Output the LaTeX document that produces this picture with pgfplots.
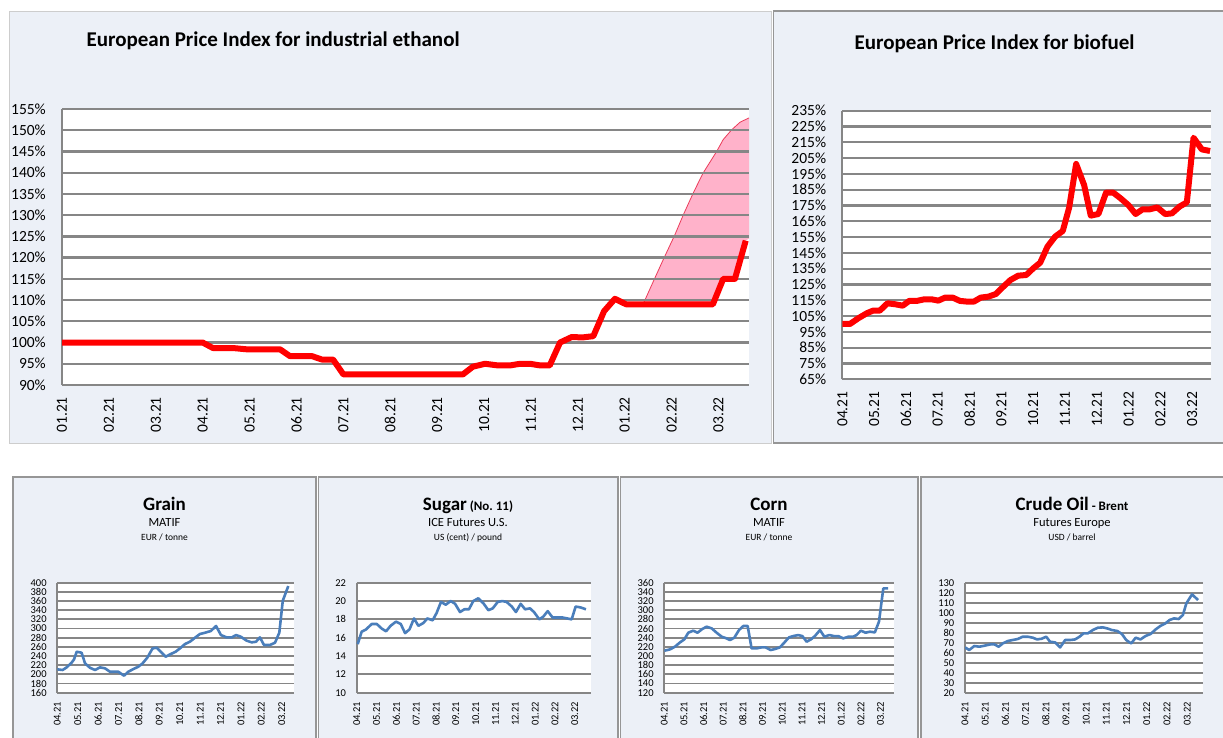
\documentclass[border=0pt]{standalone}
\usepackage{fontspec}
\setmainfont{Carlito}
\usepackage{pgfplots}
\pgfplotsset{compat=1.18}
\definecolor{panelbg}{RGB}{236,240,247}
\definecolor{gridgray}{RGB}{134,134,134}
\definecolor{boxgray}{RGB}{150,150,150}
\definecolor{lightborder}{RGB}{205,205,205}
\definecolor{lineblue}{RGB}{74,126,187}
\definecolor{pinkfill}{RGB}{255,178,202}
\definecolor{pinkedge}{RGB}{235,60,90}

\pgfplotsset{
  base/.style={
    scale only axis, anchor=south west, xmin=0,
    axis background/.style={fill=white},
    axis x line=bottom, axis y line=left,
    axis line style={draw=gridgray, line width=2.3pt, -},
    ymajorgrids, major grid style={draw=gridgray, line width=2.3pt},
    major tick length=0pt,
    tick label style={inner sep=0pt},
    xticklabel style={rotate=90, anchor=east},
    yticklabel style={anchor=east},
    /pgf/number format/assume math mode=true,
    /pgf/number format/fixed, /pgf/number format/precision=0,
    /pgf/number format/1000 sep={},
  },
  big/.style={base,
    tick label style={font=\fontsize{15.5}{18}\selectfont},
    xticklabel shift=12pt, yticklabel shift=16pt,
    yticklabel={\pgfmathprintnumber{\tick}\%}},
  small/.style={base,
    tick label style={font=\fontsize{10.5}{12}\selectfont},
    xticklabel shift=9pt, yticklabel shift=10.5pt,
    axis line style={line width=1.9pt}, major grid style={line width=1.9pt},
    xtick={0,...,11},
    xticklabels={04.21,05.21,06.21,07.21,08.21,09.21,10.21,11.21,12.21,01.22,02.22,03.22}},
  blueline/.style={lineblue, line width=2.6pt, line join=round},
}

\begin{document}
\begin{tikzpicture}
\useasboundingbox (0pt,0pt) rectangle (1223pt,737pt);
% panel backgrounds
\fill[white] (0pt,0pt) rectangle (1223pt,737pt);
\draw[fill=panelbg, draw=lightborder, line width=0.8pt] (9pt,294pt) rectangle (771pt,726pt);
\draw[fill=panelbg, draw=boxgray, line width=1.6pt] (773.5pt,294pt) rectangle (1235pt,726pt);
\draw[fill=panelbg, draw=boxgray, line width=1.6pt] (13pt,-10pt) rectangle (316pt,260pt);
\draw[fill=panelbg, draw=boxgray, line width=1.6pt] (318.5pt,-10pt) rectangle (618pt,260pt);
\draw[fill=panelbg, draw=boxgray, line width=1.6pt] (620.5pt,-10pt) rectangle (918pt,260pt);
\draw[fill=panelbg, draw=boxgray, line width=1.6pt] (921pt,-10pt) rectangle (1235pt,260pt);

% titles
\node[anchor=base west, font=\fontsize{21}{25}\selectfont\bfseries] at (83pt,690.3pt) {European Price Index for industrial ethanol};
\node[anchor=base west, font=\fontsize{21}{25}\selectfont\bfseries] at (851pt,687pt) {European Price Index for biofuel};

\node[anchor=base, font=\fontsize{19}{22}\selectfont\bfseries] at (164.5pt,227pt) {Grain};
\node[anchor=base, font=\fontsize{12.5}{15}\selectfont] at (164.5pt,211pt) {MATIF};
\node[anchor=base, font=\fontsize{9.5}{11}\selectfont] at (164.5pt,196.5pt) {EUR / tonne};

\node[anchor=base, font=\fontsize{19}{22}\selectfont\bfseries] at (468pt,227pt) {Sugar{\fontsize{13}{15}\selectfont\ (No.~11)}};
\node[anchor=base, font=\fontsize{12.5}{15}\selectfont] at (468pt,211pt) {ICE Futures U.S.};
\node[anchor=base, font=\fontsize{9.5}{11}\selectfont] at (468pt,196.5pt) {US (cent) / pound};

\node[anchor=base, font=\fontsize{19}{22}\selectfont\bfseries] at (769pt,227pt) {Corn};
\node[anchor=base, font=\fontsize{12.5}{15}\selectfont] at (769pt,211pt) {MATIF};
\node[anchor=base, font=\fontsize{9.5}{11}\selectfont] at (769pt,196.5pt) {EUR / tonne};

\node[anchor=base, font=\fontsize{19}{22}\selectfont\bfseries] at (1072pt,227pt) {Crude Oil{\fontsize{13}{15}\selectfont\ - Brent}};
\node[anchor=base, font=\fontsize{12.5}{15}\selectfont] at (1072pt,211pt) {Futures Europe};
\node[anchor=base, font=\fontsize{9.5}{11}\selectfont] at (1072pt,196.5pt) {USD / barrel};

% ---- ethanol: decoration + pink area (grid on top)
\begin{axis}[big, at={(62pt,352pt)}, width=687pt, height=276pt,
  xmax=14.65, ymin=90, ymax=155, ytick={90,95,...,155},
  xtick={0,...,14},
  xticklabels={01.21,02.21,03.21,04.21,05.21,06.21,07.21,08.21,09.21,10.21,11.21,12.21,01.22,02.22,03.22},
  axis on top]
\addplot[draw=none, fill=pinkfill] coordinates {
 (12.39,109) (12.61,114.4) (12.82,119.5) (13.07,125.4) (13.25,130.1) (13.46,135.2)
 (13.67,139.9) (13.96,145.0) (14.1,147.8) (14.28,150.1) (14.46,151.9) (14.65,152.9)
 (14.65,124.5) (14.58,124) (14.35,115) (14.1,115) (13.88,109) } -- cycle;
\addplot[pinkedge, line width=0.8pt] coordinates {
 (12.39,109) (12.61,114.4) (12.82,119.5) (13.07,125.4) (13.25,130.1) (13.46,135.2)
 (13.67,139.9) (13.96,145.0) (14.1,147.8) (14.28,150.1) (14.46,151.9) (14.65,152.9)};
\end{axis}
% ---- ethanol: red index line
\begin{axis}[scale only axis, anchor=south west, at={(62pt,352pt)}, width=687pt, height=276pt,
  xmin=0, xmax=14.65, ymin=90, ymax=155, hide axis]
\addplot[red, line width=6pt, line join=round] coordinates {
 (0,100) (3.0,100) (3.22,98.7) (3.65,98.7) (3.94,98.4) (4.65,98.4) (4.86,96.8)
 (5.33,96.8) (5.54,96.0) (5.78,96.0) (6.0,92.5) (8.55,92.5) (8.76,94.3) (9.02,95.0)
 (9.3,94.6) (9.55,94.6) (9.77,95.0) (9.98,95.0) (10.2,94.6) (10.4,94.6) (10.62,100.0)
 (10.87,101.3) (11.1,101.2) (11.33,101.5) (11.56,107.4) (11.79,110.3) (12.03,109.0)
 (13.88,109.0) (14.1,115.0) (14.35,115.0) (14.58,124.0)};
\end{axis}

% ---- biofuel
\begin{axis}[big, at={(842.3pt,357.7pt)}, width=368.4pt, height=268.6pt,
  xmax=11.58, ymin=65, ymax=235, ytick={65,75,...,235},
  xtick={0,...,11},
  xticklabels={04.21,05.21,06.21,07.21,08.21,09.21,10.21,11.21,12.21,01.22,02.22,03.22}]
\addplot[red, line width=6pt, line join=round] coordinates {
 (0,100.0) (0.24,100.0) (0.5,103.6) (0.77,106.8) (0.97,108.5) (1.18,108.5) (1.42,113.1)
 (1.66,112.5) (1.9,111.6) (2.1,114.6) (2.34,114.6) (2.57,115.6) (2.81,115.6) (3.02,114.8)
 (3.23,116.7) (3.47,116.7) (3.7,114.6) (3.91,114.2) (4.14,114.2) (4.35,116.7) (4.59,117.3)
 (4.83,119.0) (5.06,123.6) (5.29,127.9) (5.53,130.6) (5.78,131.0) (6.0,135.2) (6.22,138.8)
 (6.45,149.0) (6.69,155.3) (6.93,158.9) (7.13,173.6) (7.35,201.3) (7.6,188.0) (7.81,168.6)
 (8.05,169.6) (8.29,183.1) (8.52,183.1) (8.75,179.5) (8.99,175.3) (9.22,169.6) (9.44,172.6)
 (9.67,172.6) (9.9,173.8) (10.15,169.6) (10.36,170.0) (10.6,174.3) (10.83,177.0)
 (11.04,217.9) (11.3,210.5) (11.56,209.5)};
\end{axis}

% ---- grain
\begin{axis}[small, at={(57.3pt,44.3pt)}, width=236.7pt, height=110pt,
  xmax=11.6, ymin=160, ymax=400, ytick={160,180,...,400}]
\addplot[blueline] coordinates {
 (0,211) (0.26,209.5) (0.46,215.3) (0.7,225.5) (0.82,232.7) (0.95,249.4) (1.19,247.3)
 (1.36,224) (1.6,214.5) (1.85,209.5) (2.09,215.3) (2.34,213.1) (2.58,205.8) (2.99,205.8)
 (3.27,197.1) (3.48,205.8) (3.73,211.6) (3.97,216.7) (4.18,224) (4.41,236.4) (4.67,256.7)
 (4.87,258.2) (5.07,249.4) (5.31,238.5) (5.56,244.4) (5.8,249.4) (6.01,256.7) (6.26,266.2)
 (6.5,271.3) (6.75,280) (6.99,288) (7.24,290.9) (7.52,294.5) (7.78,305.5) (8.02,285.8)
 (8.3,280.7) (8.55,280.7) (8.76,285.8) (8.99,282.2) (9.28,273.5) (9.53,269.8) (9.74,271.3)
 (9.93,280.7) (10.13,264) (10.42,264) (10.67,269.1) (10.88,290.9) (11.05,360.7) (11.32,392.7)};
\end{axis}

% ---- sugar
\begin{axis}[small, at={(356.7pt,44.3pt)}, width=234pt, height=110pt,
  xmax=11.8, ymin=10, ymax=22, ytick={10,12,...,22}]
\addplot[blueline] coordinates {
 (0.05,15.3) (0.25,16.65) (0.47,16.9) (0.76,17.5) (1.01,17.5) (1.26,17.0) (1.48,16.7)
 (1.71,17.3) (1.98,17.75) (2.22,17.5) (2.44,16.5) (2.66,16.9) (2.89,18.1) (3.11,17.3)
 (3.36,17.6) (3.56,18.1) (3.83,17.9) (4.03,18.7) (4.25,19.9) (4.49,19.6) (4.74,20.0)
 (4.96,19.7) (5.21,18.8) (5.43,19.1) (5.66,19.1) (5.88,20.0) (6.13,20.3) (6.39,19.75)
 (6.64,19.0) (6.86,19.2) (7.11,19.9) (7.34,20.0) (7.56,19.9) (7.82,19.4) (8.03,18.8)
 (8.27,19.7) (8.49,19.1) (8.74,19.2) (8.94,18.8) (9.21,18.0) (9.41,18.3) (9.63,18.9)
 (9.88,18.2) (10.12,18.2) (10.39,18.2) (10.62,18.1) (10.84,18.0) (11.04,19.4) (11.29,19.3)
 (11.56,19.1)};
\end{axis}

% ---- corn
\begin{axis}[small, at={(664.3pt,44.3pt)}, width=230pt, height=110pt,
  xmax=11.7, ymin=120, ymax=360, ytick={120,140,...,360}]
\addplot[blueline] coordinates {
 (0,211.6) (0.29,214.5) (0.54,220.4) (0.8,229.8) (1.02,236.4) (1.22,250.9) (1.47,255.3)
 (1.69,250.9) (1.93,258.9) (2.15,264) (2.41,260.4) (2.66,250.9) (2.92,242.2) (3.17,238.5)
 (3.34,234.9) (3.56,240) (3.8,256.7) (4.02,265.5) (4.24,265.5) (4.44,216.7) (4.69,216.7)
 (4.95,218.9) (5.15,218.9) (5.41,213.1) (5.63,215.3) (5.88,218.9) (6.1,229.1) (6.34,240.7)
 (6.56,243.6) (6.81,245.8) (7.02,243.6) (7.24,231.3) (7.46,236.4) (7.66,243.6) (7.92,256.7)
 (8.14,242.2) (8.39,245.8) (8.63,243.6) (8.85,243.6) (9.1,238.5) (9.36,242.2) (9.61,242.2)
 (9.78,245.8) (10,255.3) (10.24,250.9) (10.46,253.1) (10.71,251.6) (10.92,274.9)
 (11.14,347.6) (11.39,347.6)};
\end{axis}

% ---- crude oil
\begin{axis}[small, at={(965pt,44.3pt)}, width=238.3pt, height=110pt,
  xmax=11.8, ymin=20, ymax=130, ytick={20,30,...,130}]
\addplot[blueline] coordinates {
 (0,65.3) (0.21,62.7) (0.46,66.7) (0.71,66) (0.96,67) (1.26,68.3) (1.45,68.3) (1.67,66)
 (1.87,69.3) (2.12,71.7) (2.36,72.7) (2.61,73.7) (2.86,76) (3.11,76) (3.36,75) (3.57,73.3)
 (3.8,74) (4.02,76) (4.21,71) (4.46,70.3) (4.71,65.3) (4.96,72.7) (5.21,72.7) (5.45,73.3)
 (5.67,76) (5.87,79.3) (6.08,79.3) (6.33,82.7) (6.58,85) (6.83,85.3) (7.04,84.3) (7.27,82.7)
 (7.54,81.7) (7.77,78.7) (7.98,72.7) (8.23,69.3) (8.45,75) (8.69,73.3) (8.94,76.7)
 (9.19,78.7) (9.44,83.3) (9.67,86.7) (9.92,89.3) (10.13,92.7) (10.35,94.3) (10.58,93.7)
 (10.79,97.7) (10.96,109.3) (11.24,118.3) (11.54,112.7)};
\end{axis}
\end{tikzpicture}
\end{document}
